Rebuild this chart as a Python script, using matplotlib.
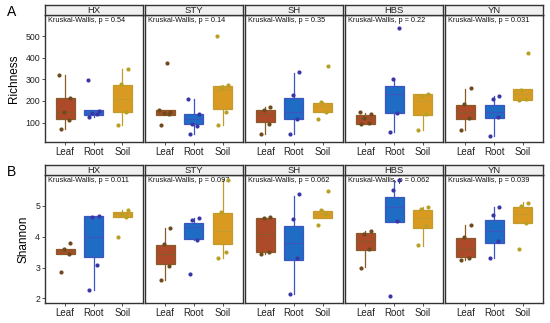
import matplotlib
matplotlib.use("Agg")
import matplotlib.pyplot as plt

plt.rcParams['font.family'] = ['Liberation Sans', 'DejaVu Sans']

sites = ['HX', 'STY', 'SH', 'HBS', 'YN']
groups = ['Leaf', 'Root', 'Soil']

# box stats per site: [lo, q1, median, q3, hi] for Leaf, Root, Soil
rich_box = {
    'HX':  [[72, 115, 150, 214, 320], [125, 134, 145, 157, 160], [91, 149, 210, 275, 349]],
    'STY': [[135, 137, 145, 160, 160], [49, 92, 115, 141, 211], [88, 165, 250, 268, 272]],
    'SH':  [[46, 103, 140, 160, 172], [45, 115, 150, 214, 331], [149, 149, 175, 192, 195]],
    'HBS': [[95, 95, 120, 137, 145], [54, 146, 230, 269, 298], [65, 134, 200, 232, 232]],
    'YN':  [[65, 118, 150, 183, 257], [38, 122, 150, 183, 223], [203, 203, 230, 254, 254]],
}
rich_pts = {
    'HX':  [[72, 110, 150, 215, 320], [128, 138, 145, 155, 295], [91, 150, 280, 348]],
    'STY': [[88, 138, 145, 150, 158, 378], [48, 85, 95, 140, 210], [88, 150, 265, 272, 500]],
    'SH':  [[45, 95, 160, 170], [45, 115, 229, 335], [118, 150, 195, 361]],
    'HBS': [[95, 100, 120, 140, 150], [54, 145, 300, 540], [65, 140, 225, 232]],
    'YN':  [[65, 120, 185, 260], [38, 125, 208, 222], [203, 210, 250, 423]],
}
rich_p = ['0.54', '0.14', '0.35', '0.22', '0.031']

shan_box = {
    'HX':  [[3.45, 3.45, 3.52, 3.60, 3.62], [2.27, 3.35, 4.0, 4.68, 4.68], [4.65, 4.65, 4.72, 4.80, 4.85]],
    'STY': [[2.61, 3.10, 3.45, 3.73, 4.27], [3.90, 3.94, 4.3, 4.45, 4.62], [3.32, 3.76, 4.2, 4.77, 5.88]],
    'SH':  [[3.45, 3.49, 4.1, 4.61, 4.65], [2.13, 3.24, 3.8, 4.35, 5.32], [4.62, 4.62, 4.75, 4.83, 4.85]],
    'HBS': [[3.02, 3.56, 3.85, 4.13, 4.2], [4.46, 4.46, 4.95, 5.29, 5.83], [3.70, 4.29, 4.6, 4.86, 4.95]],
    'YN':  [[3.25, 3.35, 3.6, 3.97, 4.37], [3.32, 3.78, 4.2, 4.54, 4.97], [4.43, 4.43, 4.75, 4.95, 5.13]],
}
shan_pts = {
    'HX':  [[2.85, 3.45, 3.6, 3.78], [2.27, 3.07, 4.65, 4.68], [4.0, 4.65, 4.75, 4.85]],
    'STY': [[2.6, 3.05, 3.75, 4.27], [2.79, 3.9, 4.55, 4.62], [3.3, 3.5, 4.8, 5.85]],
    'SH':  [[3.45, 3.5, 4.6, 4.65], [2.13, 3.3, 4.57, 5.38], [4.39, 4.75, 4.85, 5.47]],
    'HBS': [[3.0, 3.6, 4.1, 4.2], [2.08, 4.5, 5.5, 5.85], [3.72, 4.35, 4.9, 4.95]],
    'YN':  [[3.25, 3.3, 4.0, 4.37], [3.32, 3.85, 4.7, 4.97], [3.6, 4.45, 5.0, 5.1]],
}
shan_p = ['0.011', '0.097', '0.062', '0.062', '0.039']

fill_cols = ['#ad4a2a', '#1f6cc4', '#d99a22']
edge_cols = ['#8a5a28', '#3d55c0', '#c39a2c']
pt_cols = ['#6e4a1c', '#3a36a6', '#b8a025']
jit = [-0.15, 0.12, -0.05, 0.18, -0.2, 0.08]

W, H = 550, 323
fig = plt.figure(figsize=(5.5, 3.23), dpi=100)


def draw_row(top_px, bot_px, boxes, pts, pvals, ylim, yticks, ylabel, letter):
    left0, pw, gap = 45, 97.5, 2.6
    for i, site in enumerate(sites):
        x0 = left0 + i * (pw + gap)
        ax = fig.add_axes([x0 / W, 1 - bot_px / H, pw / W, (bot_px - top_px) / H])
        stats = []
        for s in boxes[site]:
            stats.append(dict(whislo=s[0], q1=s[1], med=s[2], q3=s[3], whishi=s[4], fliers=[]))
        bp = ax.bxp(stats, positions=[1, 2, 3], widths=0.66, patch_artist=True,
                    showcaps=False, showfliers=False)
        for g in range(3):
            bp['boxes'][g].set(facecolor=fill_cols[g], edgecolor=edge_cols[g], linewidth=0.9)
            bp['medians'][g].set(color=edge_cols[g], linewidth=0.8)
            for w in bp['whiskers'][2 * g:2 * g + 2]:
                w.set(color=edge_cols[g], linewidth=0.9)
            vals = pts[site][g]
            xs = [g + 1 + jit[k % len(jit)] for k in range(len(vals))]
            ax.scatter(xs, vals, s=9, color=pt_cols[g], zorder=5, linewidths=0)
        ax.set_xlim(0.3, 3.7)
        ax.set_ylim(*ylim)
        ax.set_xticks([1, 2, 3])
        ax.set_xticklabels(groups, fontsize=7, color='#222222')
        ax.tick_params(axis='x', length=2, width=0.6, pad=1.5, color='#333333')
        if i == 0:
            ax.set_yticks(yticks)
            ax.set_yticklabels([str(t) for t in yticks], fontsize=6.3, color='#222222')
            ax.tick_params(axis='y', length=2, width=0.6, pad=1.5, color='#333333')
            ax.set_ylabel(ylabel, fontsize=8.5, labelpad=4)
        else:
            ax.set_yticks([])
        for sp in ax.spines.values():
            sp.set_color('#333333')
            sp.set_linewidth(1.0)
        ax.text(0.03, 0.985, 'Kruskal-Wallis, p = ' + pvals[i], transform=ax.transAxes,
                fontsize=5.3, va='top', ha='left', color='#111111')
        # strip
        sax = fig.add_axes([x0 / W, 1 - top_px / H, pw / W, 10.5 / H])
        sax.set_xticks([])
        sax.set_yticks([])
        sax.set_facecolor('#f0f0f0')
        for sp in sax.spines.values():
            sp.set_color('#333333')
            sp.set_linewidth(1.0)
        sax.text(0.5, 0.45, site, transform=sax.transAxes, ha='center', va='center',
                 fontsize=6.8, color='#222222')
    fig.text(7 / W, 1 - (top_px - 3) / H, letter, fontsize=10, ha='left', va='center')


draw_row(15, 142, rich_box, rich_pts, rich_p, (10, 598), [100, 200, 300, 400, 500], 'Richness', 'A')
draw_row(175, 303, shan_box, shan_pts, shan_p, (1.85, 6.0), [2, 3, 4, 5], 'Shannon', 'B')

fig.savefig('out.png', dpi=100)
